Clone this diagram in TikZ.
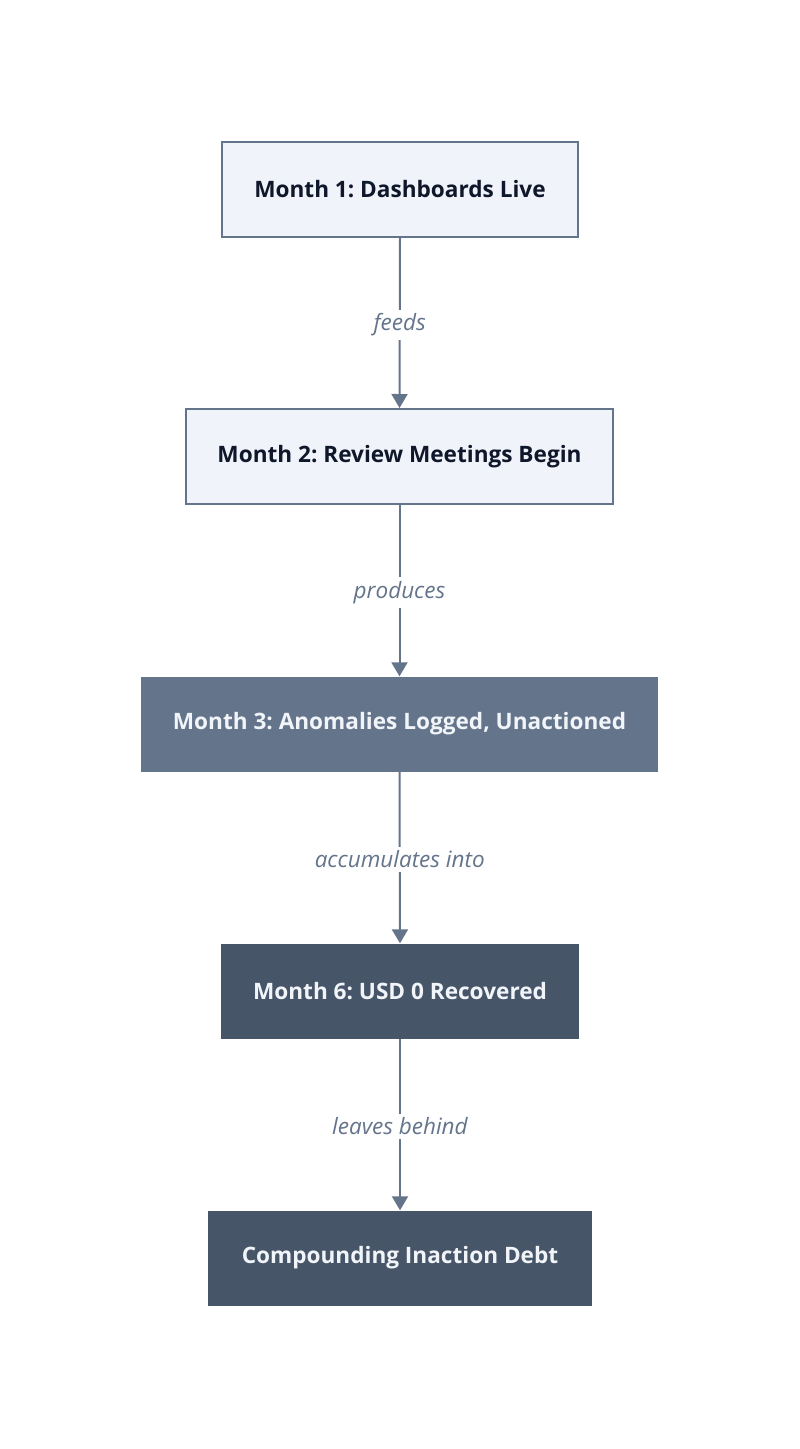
\documentclass[tikz,border=0pt]{standalone}
\usepackage{fontspec}
\setmainfont{Open Sans}
\frenchspacing
\usetikzlibrary{arrows.meta}
\definecolor{edgec}{HTML}{64748B}
\definecolor{lightfill}{HTML}{F0F3F9}
\definecolor{midfill}{HTML}{64748B}
\definecolor{darkfill}{HTML}{475569}
\definecolor{darktext}{HTML}{0F172A}
\definecolor{lighttext}{HTML}{F1F5F9}
\tikzset{
  boxbase/.style={rectangle, minimum height=95pt, inner sep=0pt, font=\fontsize{22.6}{27}\selectfont\bfseries},
  lightbox/.style={boxbase, fill=lightfill, draw=edgec, line width=2pt, text=darktext},
  midbox/.style={boxbase, fill=midfill, text=lighttext},
  darkbox/.style={boxbase, fill=darkfill, text=lighttext},
  conn/.style={draw=edgec, line width=2pt, -{Triangle[length=14pt,width=16pt]}},
  elabel/.style={fill=white, text=edgec, inner sep=4pt, yshift=-2pt, font=\fontsize{22.5}{27}\selectfont\itshape}
}
\begin{document}
\begin{tikzpicture}[x=1pt,y=1pt]
\useasboundingbox (0,0) rectangle (800,-1449);
\node[lightbox, minimum width=356pt] (n1) at (400,-189.5) {Month 1: Dashboards Live};
\node[lightbox, minimum width=427pt] (n2) at (399.5,-456.5) {Month 2: Review Meetings Begin};
\node[midbox, minimum width=517pt] (n3) at (399.5,-724) {Month 3: Anomalies Logged, Unactioned};
\node[darkbox, minimum width=358pt] (n4) at (400,-991) {Month 6: USD 0 Recovered};
\node[darkbox, minimum width=384pt] (n5) at (400,-1258) {Compounding Inaction Debt};
\draw[conn] (n1.south) -- node[elabel] {feeds} (n2.north);
\draw[conn] (n2.south) -- node[elabel] {produces} (n3.north);
\draw[conn] (n3.south) -- node[elabel] {accumulates into} (n4.north);
\draw[conn] (n4.south) -- node[elabel] {leaves behind} (n5.north);
\end{tikzpicture}
\end{document}
